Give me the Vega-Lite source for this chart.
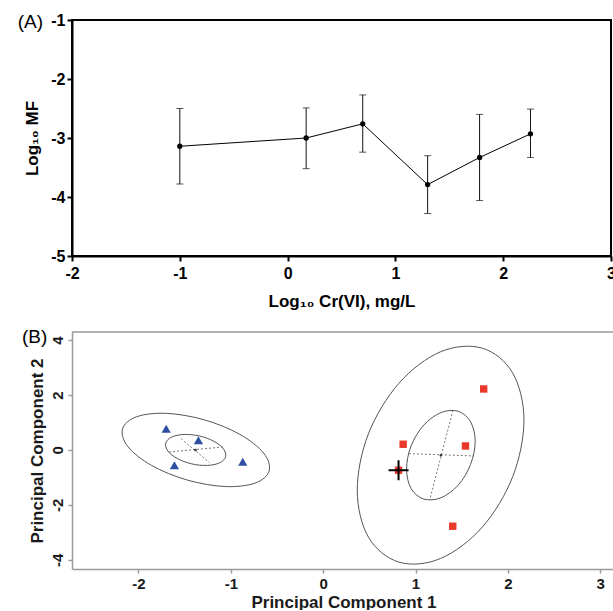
{
  "$schema": "https://vega.github.io/schema/vega-lite/v6.json",
  "padding": {"left": 16, "top": 11, "right": 0, "bottom": 0},
  "spacing": 18,
  "config": {"font": "Liberation Sans", "view": {"stroke": null}, "axis": {"labelExpr": "replace(datum.label, '\u2212', '-')"}},
  "datasets": {
    "mf": [
      {"x": -1, "y": -3.14, "lo": -3.78, "hi": -2.5},
      {"x": 0.172, "y": -3.0, "lo": -3.52, "hi": -2.49},
      {"x": 0.697, "y": -2.76, "lo": -3.24, "hi": -2.27},
      {"x": 1.299, "y": -3.79, "lo": -4.28, "hi": -3.3},
      {"x": 1.781, "y": -3.33, "lo": -4.06, "hi": -2.6},
      {"x": 2.253, "y": -2.93, "lo": -3.33, "hi": -2.51}
    ],
    "pc": [
      {"g": "T", "x": -1.7, "y": 0.775},
      {"g": "T", "x": -1.351, "y": 0.353},
      {"g": "T", "x": -1.611, "y": -0.556},
      {"g": "T", "x": -0.871, "y": -0.425},
      {"g": "S", "x": 1.738, "y": 2.218},
      {"g": "S", "x": 0.866, "y": 0.207},
      {"g": "S", "x": 1.541, "y": 0.145},
      {"g": "S", "x": 0.816, "y": -0.738},
      {"g": "S", "x": 1.403, "y": -2.775}
    ],
    "ell": [
      {"e": "L1", "k": 0, "x": -0.585, "y": -0.764},
      {"e": "L1", "k": 1, "x": -0.738, "y": -1.207},
      {"e": "L1", "k": 2, "x": -1.062, "y": -1.331},
      {"e": "L1", "k": 3, "x": -1.472, "y": -1.095},
      {"e": "L1", "k": 4, "x": -1.856, "y": -0.567},
      {"e": "L1", "k": 5, "x": -2.113, "y": 0.113},
      {"e": "L1", "k": 6, "x": -2.173, "y": 0.764},
      {"e": "L1", "k": 7, "x": -2.021, "y": 1.207},
      {"e": "L1", "k": 8, "x": -1.697, "y": 1.331},
      {"e": "L1", "k": 9, "x": -1.286, "y": 1.095},
      {"e": "L1", "k": 10, "x": -0.902, "y": 0.567},
      {"e": "L1", "k": 11, "x": -0.645, "y": -0.113},
      {"e": "L2", "k": 0, "x": -1.054, "y": -0.182},
      {"e": "L2", "k": 1, "x": -1.098, "y": -0.425},
      {"e": "L2", "k": 2, "x": -1.217, "y": -0.553},
      {"e": "L2", "k": 3, "x": -1.381, "y": -0.535},
      {"e": "L2", "k": 4, "x": -1.544, "y": -0.371},
      {"e": "L2", "k": 5, "x": -1.664, "y": -0.109},
      {"e": "L2", "k": 6, "x": -1.708, "y": 0.182},
      {"e": "L2", "k": 7, "x": -1.664, "y": 0.425},
      {"e": "L2", "k": 8, "x": -1.544, "y": 0.553},
      {"e": "L2", "k": 9, "x": -1.381, "y": 0.535},
      {"e": "L2", "k": 10, "x": -1.217, "y": 0.371},
      {"e": "L2", "k": 11, "x": -1.098, "y": 0.109},
      {"e": "R1", "k": 0, "x": 2.174, "y": 1.084},
      {"e": "R1", "k": 1, "x": 2.053, "y": -0.967},
      {"e": "R1", "k": 2, "x": 1.723, "y": -2.807},
      {"e": "R1", "k": 3, "x": 1.271, "y": -3.949},
      {"e": "R1", "k": 4, "x": 0.821, "y": -4.08},
      {"e": "R1", "k": 5, "x": 0.49, "y": -3.171},
      {"e": "R1", "k": 6, "x": 0.369, "y": -1.462},
      {"e": "R1", "k": 7, "x": 0.49, "y": 0.589},
      {"e": "R1", "k": 8, "x": 0.821, "y": 2.429},
      {"e": "R1", "k": 9, "x": 1.271, "y": 3.571},
      {"e": "R1", "k": 10, "x": 1.723, "y": 3.702},
      {"e": "R1", "k": 11, "x": 2.053, "y": 2.793},
      {"e": "R2", "k": 0, "x": 1.646, "y": 0.316},
      {"e": "R2", "k": 1, "x": 1.596, "y": -0.527},
      {"e": "R2", "k": 2, "x": 1.462, "y": -1.28},
      {"e": "R2", "k": 3, "x": 1.276, "y": -1.738},
      {"e": "R2", "k": 4, "x": 1.089, "y": -1.785},
      {"e": "R2", "k": 5, "x": 0.952, "y": -1.404},
      {"e": "R2", "k": 6, "x": 0.903, "y": -0.695},
      {"e": "R2", "k": 7, "x": 0.952, "y": 0.149},
      {"e": "R2", "k": 8, "x": 1.089, "y": 0.902},
      {"e": "R2", "k": 9, "x": 1.276, "y": 1.36},
      {"e": "R2", "k": 10, "x": 1.462, "y": 1.407},
      {"e": "R2", "k": 11, "x": 1.596, "y": 1.025}
    ],
    "ax": [
      {"x": -1.668, "y": -0.073, "x2": -1.081, "y2": 0.109},
      {"x": -1.538, "y": 0.411, "x2": -1.232, "y2": -0.462},
      {"x": 0.928, "y": -0.135, "x2": 1.634, "y2": -0.218},
      {"x": 1.406, "y": 1.444, "x2": 1.155, "y2": -1.793}
    ],
    "ctr": [
      {"x": -1.382, "y": 0.0},
      {"x": 1.274, "y": -0.19}
    ],
    "crs": [
      {"x": 0.816, "y": -0.738}
    ],
    "border": [
      {"x": -2.72, "x2": 3.16, "y": 4.29}
    ]
  },
  "vconcat": [
    {
      "width": 539,
      "height": 236,
      "title": {"text": "(A)", "anchor": "start", "frame": "bounds", "fontSize": 19, "fontWeight": "normal", "color": "black", "offset": 0, "dy": 20, "dx": -6},
      "view": {"stroke": "black", "strokeWidth": 2},
      "data": {"name": "mf"},
      "encoding": {
        "x": {
          "field": "x", "type": "quantitative",
          "scale": {"domain": [-2, 3], "nice": false, "zero": false},
          "axis": {"values": [-2, -1, 0, 1, 2, 3], "title": "Log₁₀ Cr(VI), mg/L", "grid": false,
            "domainColor": "black", "domainWidth": 2, "tickColor": "black", "tickWidth": 2, "tickSize": 5,
            "labelFontSize": 16, "labelFontWeight": "bold", "labelColor": "black", "labelPadding": 4, "labelFlush": false,
            "titleFontSize": 17, "titleFontWeight": "bold", "titleColor": "black", "titlePadding": 12}
        }
      },
      "layer": [
        {
          "mark": {"type": "rule", "color": "#111", "strokeWidth": 1},
          "encoding": {
            "y": {"field": "lo", "type": "quantitative", "scale": {"domain": [-5, -1], "nice": false, "zero": false},
              "axis": {"values": [-5, -4, -3, -2, -1], "title": "Log₁₀ MF", "grid": false,
                "domainColor": "black", "domainWidth": 2, "tickColor": "black", "tickWidth": 2, "tickSize": 5,
                "labelFontSize": 16, "labelFontWeight": "bold", "labelColor": "black", "labelPadding": 2,
                "titleFontSize": 17, "titleFontWeight": "bold", "titleColor": "black", "titlePadding": 9}},
            "y2": {"field": "hi"}
          }
        },
        {
          "mark": {"type": "tick", "orient": "horizontal", "size": 7, "thickness": 1, "color": "#111"},
          "encoding": {"y": {"field": "hi", "type": "quantitative",
              "axis": {"values": [-5, -4, -3, -2, -1], "title": "Log₁₀ MF", "grid": false,
                "domainColor": "black", "domainWidth": 2, "tickColor": "black", "tickWidth": 2, "tickSize": 5,
                "labelFontSize": 16, "labelFontWeight": "bold", "labelColor": "black", "labelPadding": 2,
                "titleFontSize": 17, "titleFontWeight": "bold", "titleColor": "black", "titlePadding": 9}}}
        },
        {
          "mark": {"type": "tick", "orient": "horizontal", "size": 7, "thickness": 1, "color": "#111"},
          "encoding": {"y": {"field": "lo", "type": "quantitative",
              "axis": {"values": [-5, -4, -3, -2, -1], "title": "Log₁₀ MF", "grid": false,
                "domainColor": "black", "domainWidth": 2, "tickColor": "black", "tickWidth": 2, "tickSize": 5,
                "labelFontSize": 16, "labelFontWeight": "bold", "labelColor": "black", "labelPadding": 2,
                "titleFontSize": 17, "titleFontWeight": "bold", "titleColor": "black", "titlePadding": 9}}}
        },
        {
          "mark": {"type": "line", "color": "black", "strokeWidth": 1},
          "encoding": {
            "y": {"field": "y", "type": "quantitative",
              "axis": {"values": [-5, -4, -3, -2, -1], "title": "Log₁₀ MF", "grid": false,
                "domainColor": "black", "domainWidth": 2, "tickColor": "black", "tickWidth": 2, "tickSize": 5,
                "labelFontSize": 16, "labelFontWeight": "bold", "labelColor": "black", "labelPadding": 2,
                "titleFontSize": 17, "titleFontWeight": "bold", "titleColor": "black", "titlePadding": 9}}
          }
        },
        {
          "mark": {"type": "point", "filled": true, "color": "black", "size": 28, "opacity": 1},
          "encoding": {"y": {"field": "y", "type": "quantitative",
              "axis": {"values": [-5, -4, -3, -2, -1], "title": "Log₁₀ MF", "grid": false,
                "domainColor": "black", "domainWidth": 2, "tickColor": "black", "tickWidth": 2, "tickSize": 5,
                "labelFontSize": 16, "labelFontWeight": "bold", "labelColor": "black", "labelPadding": 2,
                "titleFontSize": 17, "titleFontWeight": "bold", "titleColor": "black", "titlePadding": 9}}}
        }
      ]
    },
    {
      "width": 543,
      "height": 237,
      "title": {"text": "(B)", "anchor": "start", "frame": "bounds", "fontSize": 19, "fontWeight": "normal", "color": "black", "offset": 0, "dy": 16, "dx": -6},
      "encoding": {
        "x": {
          "field": "x", "type": "quantitative",
          "scale": {"domain": [-2.72, 3.16], "nice": false, "zero": false},
          "axis": {"values": [-2, -1, 0, 1, 2, 3], "title": "Principal Component 1", "grid": false,
            "domainColor": "#9a9a9a", "domainWidth": 1.5, "tickColor": "#9a9a9a", "tickWidth": 1.5, "tickSize": 4,
            "labelFontSize": 15, "labelFontWeight": "bold", "labelColor": "#1a1a1a", "labelPadding": 3, "labelFlush": false,
            "titleFontSize": 17, "titleFontWeight": "bold", "titleColor": "#1a1a1a", "titlePadding": 3}
        },
        "y": {
          "field": "y", "type": "quantitative",
          "scale": {"domain": [-4.33, 4.29], "nice": false, "zero": false},
          "axis": {"values": [-4, -2, 0, 2, 4], "title": "Principal Component 2", "grid": false,
            "domainColor": "#9a9a9a", "domainWidth": 1.5, "tickColor": "#9a9a9a", "tickWidth": 1.5, "tickSize": 4,
            "labelAngle": -90, "labelFontSize": 15, "labelFontWeight": "bold", "labelColor": "#1a1a1a", "labelPadding": 3, "labelFlush": false,
            "titleFontSize": 17, "titleFontWeight": "bold", "titleColor": "#1a1a1a", "titlePadding": 4}
        }
      },
      "layer": [
        {
          "data": {"name": "border"},
          "mark": {"type": "rule", "color": "#9a9a9a", "strokeWidth": 1.5},
          "encoding": {"x2": {"field": "x2"}}
        },
        {
          "data": {"name": "ell"},
          "mark": {"type": "line", "interpolate": "cardinal-closed", "color": "#555", "strokeWidth": 1},
          "encoding": {
            "detail": {"field": "e"},
            "order": {"field": "k", "type": "quantitative"}
          }
        },
        {
          "data": {"name": "ax"},
          "mark": {"type": "rule", "color": "#666", "strokeWidth": 0.9, "strokeDash": [2, 2]},
          "encoding": {"x2": {"field": "x2"}, "y2": {"field": "y2"}}
        },
        {
          "data": {"name": "ctr"},
          "mark": {"type": "point", "filled": true, "color": "#333", "size": 6, "opacity": 1}
        },
        {
          "data": {"name": "pc"},
          "mark": {"type": "point", "filled": true, "opacity": 1},
          "encoding": {
            "shape": {"field": "g", "type": "nominal", "scale": {"domain": ["T", "S"], "range": ["triangle-up", "square"]}, "legend": null},
            "color": {"field": "g", "type": "nominal", "scale": {"domain": ["T", "S"], "range": ["#2d4ea3", "#e8392b"]}, "legend": null},
            "size": {"field": "g", "type": "nominal", "scale": {"domain": ["T", "S"], "range": [85, 55]}, "legend": null}
          }
        },
        {
          "data": {"name": "crs"},
          "mark": {"type": "point", "shape": "M-1,0L1,0M0,-1L0,1", "filled": false, "stroke": "black", "strokeWidth": 2, "size": 400, "opacity": 1}
        }
      ]
    }
  ]
}
